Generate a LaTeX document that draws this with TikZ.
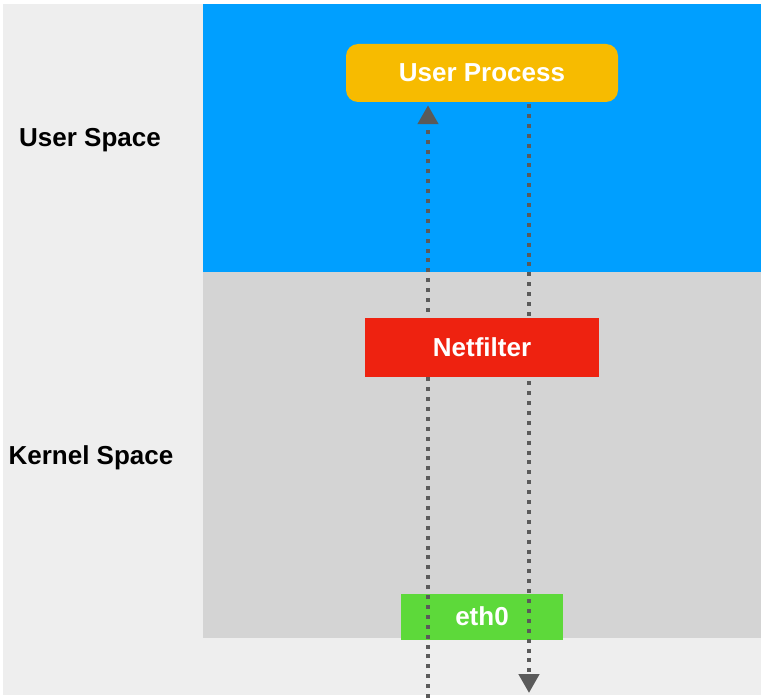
\documentclass[tikz,border=0pt]{standalone}
\usepackage{fontspec}
\setmainfont{Liberation Sans}
\usetikzlibrary{arrows.meta}
\definecolor{bgc}{HTML}{EEEEEE}
\definecolor{userc}{HTML}{009FFF}
\definecolor{kernc}{HTML}{D4D4D4}
\definecolor{procc}{HTML}{F7BB00}
\definecolor{nfc}{HTML}{EE2210}
\definecolor{ethc}{HTML}{5DD93A}
\definecolor{linec}{HTML}{5A5A5A}
\tikzset{
  lbl/.style={font=\fontsize{26}{30}\selectfont\bfseries, text=black},
  boxtxt/.style={font=\fontsize{26}{30}\selectfont\bfseries, text=white, inner sep=0pt},
  flow/.style={draw=linec, line width=4.5pt, dash pattern=on 4pt off 5.9pt,
    -{Triangle[length=19pt,width=20pt,fill=linec]}}
}
\begin{document}
\begin{tikzpicture}[x=1pt,y=-1pt]
\useasboundingbox (0,0) rectangle (770,698);
% backgrounds
\fill[bgc] (3,4) rectangle (761,695);
\fill[userc] (203,4) rectangle (761,272);
\fill[kernc] (203,272) rectangle (761,638);
% labels
\node[lbl] (us) at (90,140) {User Space};
\node[lbl] (ks) at (91,458) {Kernel Space};
% boxes
\node[boxtxt, fill=ethc, minimum width=162pt, minimum height=46pt] (eth) at (482,616.5) {eth0};
\node[boxtxt, fill=procc, rounded corners=12pt, minimum width=272pt, minimum height=58pt] (up) at (482,73) {User Process};
% flows
\coordinate (inbot) at (428,698);
\coordinate (outtop) at (529,104);
\coordinate (outbot) at (529,693);
\draw[flow, shorten >=3pt] (inbot) -- (inbot |- up.south);
\draw[flow] (outtop) -- (outbot);
% netfilter on top
\node[boxtxt, fill=nfc, minimum width=234pt, minimum height=59pt] (nf) at (482,347.5) {Netfilter};
\end{tikzpicture}
\end{document}
